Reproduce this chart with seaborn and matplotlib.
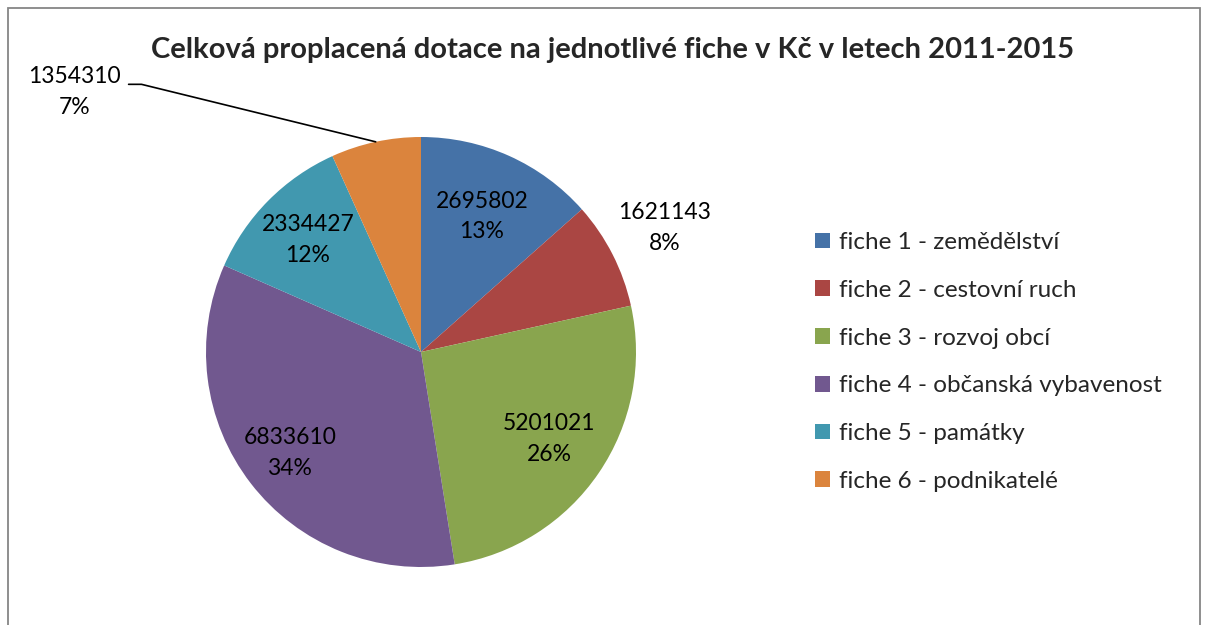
import numpy as np
import seaborn as sns
import matplotlib.pyplot as plt
from matplotlib.patches import Rectangle

# data
fiche = ["fiche 1 - zemědělství", "fiche 2 - cestovní ruch", "fiche 3 - rozvoj obcí",
         "fiche 4 - občanská vybavenost", "fiche 5 - památky", "fiche 6 - podnikatelé"]
castky = [2695802, 1621143, 5201021, 6833610, 2334427, 1354310]
barvy = ["#4572A7", "#AA4643", "#89A54E", "#71588F", "#4198AF", "#DB843D"]

sns.set_theme(style="white")
plt.rcParams["font.family"] = ["Lato", "DejaVu Sans"]

W, H = 1208, 625
fig = plt.figure(figsize=(W / 100, H / 100), dpi=100)

# ramecek grafu
fig.patches.append(Rectangle((8 / W, -0.1), (1200 - 8) / W, (H - 8) / H + 0.1,
                             transform=fig.transFigure, fill=False,
                             edgecolor="#868686", linewidth=1.3))

cx, cy, r = 421, 352, 215
ax = fig.add_axes([(cx - r) / W, (H - cy - r) / H, 2 * r / W, 2 * r / H])
paleta = sns.color_palette(barvy)
wedges, _ = ax.pie(castky, colors=paleta, startangle=90, counterclock=False,
                   radius=1, wedgeprops=dict(linewidth=0))
ax.set_xlim(-1, 1)
ax.set_ylim(-1, 1)
ax.axis("off")
for w in wedges:
    w.set_clip_on(False)

fs = 16.5
celkem = sum(castky)
# vzdalenost popisku od stredu (v polomerech)
vzdal = [0.69, 1.27, 0.72, 0.77, 0.74, None]
for i, w in enumerate(wedges):
    ang = np.deg2rad((w.theta1 + w.theta2) / 2)
    txt = f"{castky[i]}\n{round(castky[i] / celkem * 100)}%"
    if vzdal[i] is not None:
        ax.text(vzdal[i] * np.cos(ang), vzdal[i] * np.sin(ang), txt,
                ha="center", va="center", fontsize=fs, linespacing=1.55,
                color="black")
    else:
        # popisek venku s odkazovou carou
        ex, ey = np.cos(ang), np.sin(ang)
        lx, ly = -1.61, 1.21
        ax.text(lx, ly, txt, ha="center", va="center", fontsize=fs,
                linespacing=1.55, color="black", clip_on=False)
        ax.plot([-1.36, -1.30, ex], [1.245, 1.245, ey], color="black",
                linewidth=1.2, clip_on=False)

fig.text(613 / W, 1 - 50 / H,
         "Celková proplacená dotace na jednotlivé fiche v Kč v letech 2011-2015",
         ha="center", va="center", fontsize=21, fontweight="bold")

fig.legend(wedges, fiche, loc="upper left", bbox_to_anchor=(803 / W, 1 - 220 / H),
           frameon=False, fontsize=17.5, handlelength=0.62, handleheight=0.62,
           handletextpad=0.35, labelspacing=1.1, borderpad=0)

fig.savefig("out.png", dpi=100)
